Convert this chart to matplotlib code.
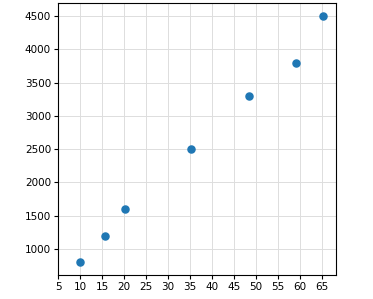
import matplotlib
matplotlib.use("Agg")
import matplotlib.pyplot as plt

# values
x_vals = [10, 15.6, 20.2, 35.2, 48.4, 59.1, 65.2]
y_vals = [800, 1200, 1600, 2500, 3300, 3800, 4500]
x_ticks = [5, 10, 15, 20, 25, 30, 35, 40, 45, 50, 55, 60, 65]
y_ticks = [1000, 1500, 2000, 2500, 3000, 3500, 4000, 4500]


def main():
    fig = plt.figure(figsize=(3.73, 2.99), dpi=100)
    ax = fig.add_axes([0.1555, 0.080, 0.745, 0.910])

    ax.scatter(x_vals, y_vals, s=26, color="#1f77b4", zorder=3)

    ax.set_xlim(5, 68.2)
    ax.set_ylim(610, 4695)
    ax.set_xticks(x_ticks)
    ax.set_yticks(y_ticks)
    ax.tick_params(labelsize=7.5, length=3, pad=2)
    ax.grid(True, color="#dddddd", linewidth=0.7)
    ax.set_axisbelow(True)

    fig.savefig("out.png", dpi=100)
    plt.close(fig)


if __name__ == "__main__":
    main()
